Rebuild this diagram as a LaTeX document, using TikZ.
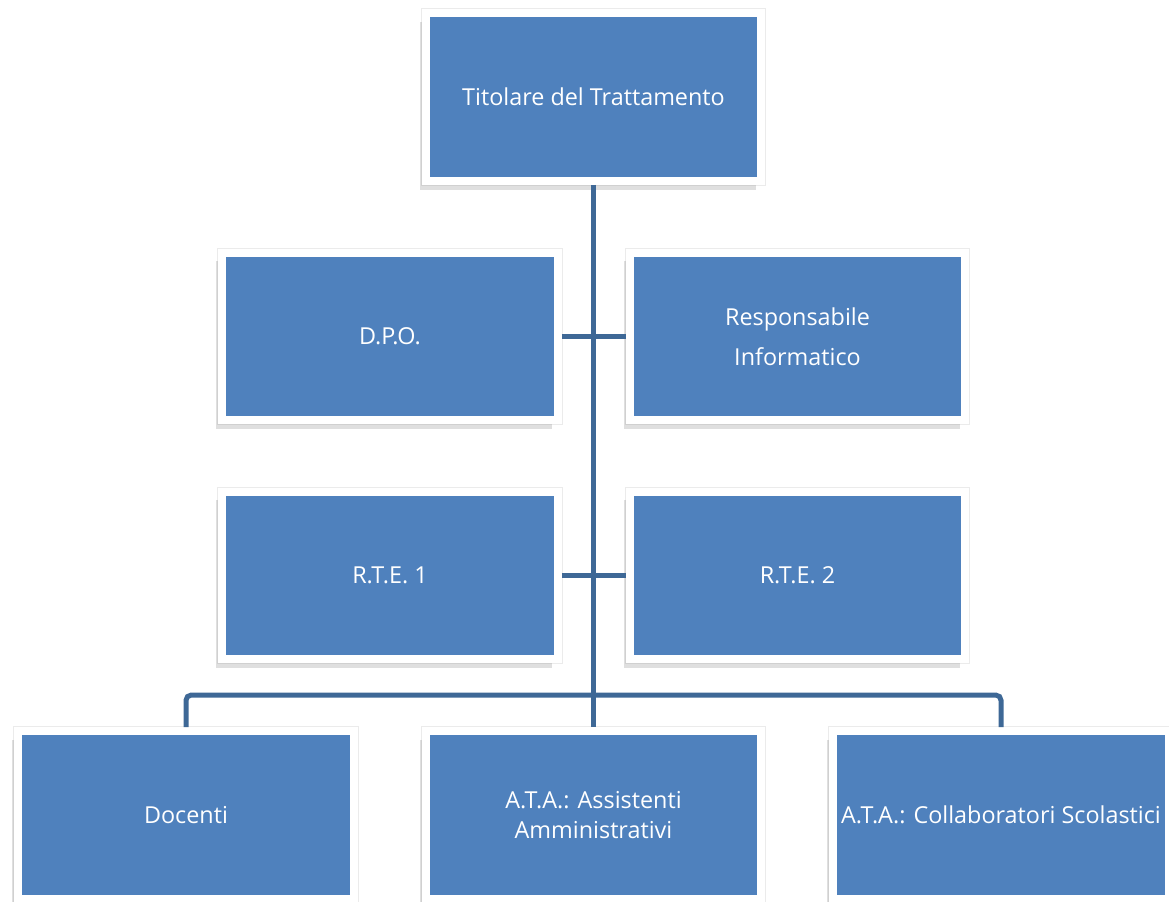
\documentclass[tikz,border=0pt]{standalone}
\usepackage{fontspec}
\setmainfont{Open Sans}
\usetikzlibrary{shadows}
\definecolor{boxblue}{HTML}{4F81BD}
\definecolor{linkblue}{HTML}{3E6896}
\tikzset{
  role/.style={rectangle,fill=boxblue,draw=white,line width=8*0.02cm,
    preaction={draw=black!8,line width=10*0.02cm},
    minimum width=6.72cm,minimum height=3.36cm,text=white,align=center,
    font=\fontsize{13.3}{16}\selectfont,
    drop shadow={opacity=0.25,shadow xshift=-3.2pt,shadow yshift=-5pt}},
  link/.style={draw=linkblue,line width=5*0.02cm}
}
\begin{document}
\begin{tikzpicture}[x=0.02cm,y=-0.02cm]
    \useasboundingbox (0,0) rectangle (1169,902);
    \node[role] (tit) at (593.5,97) {Titolare del Trattamento};
    \node[role] (dpo) at (390,336.5) {D.P.O.};
    \node[role,font=\fontsize{13.3}{23}\selectfont] (resp) at (797.5,336.5) {Responsabile\\Informatico};
    \node[role] (rte1) at (390,575.5) {R.T.E. 1};
    \node[role] (rte2) at (797.5,575.5) {R.T.E. 2};
    \node[role] (doc) at (186,815) {Docenti};
    \node[role,font=\fontsize{13.3}{17}\selectfont] (amm) at (593.5,815) {A.T.A.: Assistenti\\Amministrativi};
    \node[role] (coll) at (1001,815) {A.T.A.: Collaboratori Scolastici};
    \draw[link] (tit.south) -- (amm.north);
    \draw[link] (dpo.east) -- (resp.west);
    \draw[link] (rte1.east) -- (rte2.west);
    \draw[link,rounded corners=3] (doc.north) -- ++(0,-32) -| (coll.north);
\end{tikzpicture}
\end{document}
